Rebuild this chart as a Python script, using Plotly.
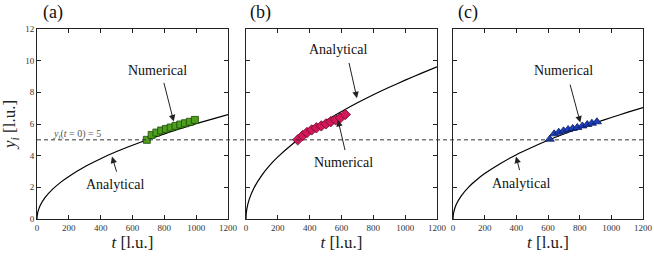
import plotly.graph_objects as go

# ---------------- data ----------------
t_curve = [0, 1, 5, 20, 50, 100, 150, 200, 300, 400, 500, 600, 700, 800, 900, 1000, 1100, 1200]
y_curve_a = [0, 0.19, 0.43, 0.85, 1.35, 1.90, 2.33, 2.69, 3.30, 3.81, 4.26, 4.66, 5.03, 5.38, 5.71, 6.02, 6.31, 6.59]
y_curve_b = [0, 0.28, 0.62, 1.24, 1.96, 2.77, 3.40, 3.92, 4.80, 5.55, 6.20, 6.79, 7.34, 7.85, 8.32, 8.77, 9.20, 9.61]
y_curve_c = [0, 0.20, 0.45, 0.91, 1.43, 2.03, 2.48, 2.87, 3.51, 4.06, 4.53, 4.97, 5.37, 5.74, 6.08, 6.41, 6.73, 7.03]

t_num_a = [690, 720, 750, 780, 810, 840, 870, 900, 930, 960, 992]
y_num_a = [5.00, 5.31, 5.46, 5.59, 5.69, 5.78, 5.88, 5.97, 6.05, 6.14, 6.26]

t_num_b = [325, 356, 383, 413, 442, 473, 503, 532, 563, 593, 624]
y_num_b = [5.00, 5.27, 5.46, 5.63, 5.76, 5.88, 6.01, 6.14, 6.26, 6.39, 6.60]

t_num_c = [611, 639, 668, 698, 727, 756, 785, 817, 848, 877, 909]
y_num_c = [5.04, 5.38, 5.48, 5.57, 5.65, 5.72, 5.78, 5.88, 5.97, 6.05, 6.14]

x_ticks = [0, 200, 400, 600, 800, 1000, 1200]
y_ticks = [0, 2, 4, 6, 8, 10, 12]
y_initial = 5
panel_labels = ["(a)", "(b)", "(c)"]

# ---------------- figure ----------------
FONT = "Times New Roman, Liberation Serif, serif"
fig = go.Figure()

panels = [
    ("x", "y", y_curve_a, t_num_a, y_num_a, "square", "#4c9e1c", "#1d4a08", 7),
    ("x2", "y2", y_curve_b, t_num_b, y_num_b, "diamond", "#d3175a", "#6a0a2a", 8),
    ("x3", "y3", y_curve_c, t_num_c, y_num_c, "triangle-up", "#1c3fc2", "#0a1a5a", 8),
]
for xa, ya, yc, tn, yn, sym, col, edge, size in panels:
    fig.add_trace(go.Scatter(x=t_curve, y=yc, mode="lines", xaxis=xa, yaxis=ya,
                             line=dict(color="black", width=1.2, shape="spline", smoothing=0.6),
                             showlegend=False, hoverinfo="skip"))
    fig.add_trace(go.Scatter(x=tn, y=yn, mode="markers", xaxis=xa, yaxis=ya,
                             marker=dict(symbol=sym, size=size, color=col,
                                         line=dict(color=edge, width=0.8)),
                             showlegend=False))

domains = [[0.0, 0.3152], [0.3449, 0.6601], [0.6865, 1.0]]
axis_common = dict(showline=True, linecolor="#222", linewidth=1, mirror="ticks",
                   ticks="inside", ticklen=4, tickcolor="#222", tickwidth=1,
                   showgrid=False, zeroline=False, automargin=False,
                   tickfont=dict(family=FONT, size=9, color="#333"))
for i, (xa, ya) in enumerate([("xaxis", "yaxis"), ("xaxis2", "yaxis2"), ("xaxis3", "yaxis3")]):
    xax = dict(axis_common, domain=domains[i], range=[0, 1200], tickvals=x_ticks,
               anchor="y" if i == 0 else "y%d" % (i + 1),
               title=dict(text="<i>t</i> [l.u.]", font=dict(family=FONT, size=17, color="#222"), standoff=4))
    yax = dict(axis_common, range=[0, 12], tickvals=y_ticks,
               anchor="x" if i == 0 else "x%d" % (i + 1),
               showticklabels=(i == 0))
    if i == 0:
        yax["title"] = dict(text="<i>y<sub>i</sub></i> [l.u.]", font=dict(family=FONT, size=17, color="#222"), standoff=6)
    fig.update_layout(**{xa: xax, ya: yax})

# dashed initial-position line spanning all panels
fig.add_shape(type="line", xref="paper", yref="y", x0=0, x1=1, y0=y_initial, y1=y_initial,
              line=dict(color="#333", width=1, dash="4px,3px"))

ann = []
txt_font = dict(family=FONT, size=14, color="#111")


def label(xref, yref, x, y, text):
    ann.append(dict(x=x, y=y, xref=xref, yref=yref, text=text, showarrow=False, font=txt_font))


def arrow(xref, yref, x0, y0, x1, y1):
    ann.append(dict(x=x1, y=y1, ax=x0, ay=y0, xref=xref, yref=yref, axref=xref, ayref=yref,
                    text="", showarrow=True, arrowhead=2, arrowsize=1.3, arrowwidth=1,
                    arrowcolor="#222", standoff=0, startstandoff=0))


# panel (a)
label("x", "y", 758, 9.36, "Numerical")
arrow("x", "y", 795, 8.69, 859, 6.16)
label("x", "y", 492, 2.19, "Analytical")
arrow("x", "y", 503, 2.89, 471, 3.94)
ann.append(dict(x=85, y=5.33, xref="x", yref="y", xanchor="left", showarrow=False,
                text="<i>y<sub>i</sub></i>(<i>t</i> = 0) = 5",
                font=dict(family=FONT, size=10, color="#555")))
# panel (b)
label("x2", "y2", 576, 10.69, "Analytical")
arrow("x2", "y2", 645, 9.95, 697, 7.63)
label("x2", "y2", 614, 3.56, "Numerical")
arrow("x2", "y2", 624, 4.26, 578, 6.26)
# panel (c)
label("x3", "y3", 695, 9.38, "Numerical")
arrow("x3", "y3", 737, 8.58, 804, 6.09)
label("x3", "y3", 427, 2.26, "Analytical")
arrow("x3", "y3", 423, 2.99, 398, 3.94)

# panel labels
for lab, xp in zip(panel_labels, [0.027, 0.368, 0.711]):
    ann.append(dict(x=xp, y=1.0, xref="paper", yref="paper", yshift=17, text=lab, showarrow=False,
                    xanchor="center", yanchor="middle", font=dict(family=FONT, size=18, color="#111")))

fig.update_layout(annotations=ann, width=654, height=257,
                  margin=dict(l=37, r=11, t=29, b=38),
                  paper_bgcolor="white", plot_bgcolor="white",
                  font=dict(family=FONT))

fig.write_html("out.html", config={"displayModeBar": False},
               post_script="document.body.style.margin='0';document.body.style.padding='0';")
